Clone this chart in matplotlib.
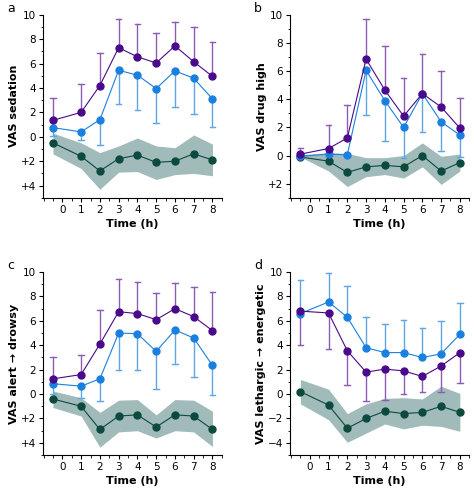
import matplotlib
matplotlib.use("Agg")
import matplotlib.pyplot as plt
from matplotlib.ticker import MultipleLocator

x = [-0.5, 1, 2, 3, 4, 5, 6, 7, 8]
xticks = [0, 1, 2, 3, 4, 5, 6, 7, 8]

a_pur = [1.35, 2.0, 4.2, 7.3, 6.55, 6.05, 7.45, 6.15, 4.95]
a_pur_err = [3.2, 4.35, 6.85, 9.65, 9.25, 8.5, 9.4, 9.0, 7.75]
a_blu = [0.75, 0.4, 1.4, 5.45, 5.05, 3.95, 5.4, 4.8, 3.1]
a_blu_err = [0.1, -0.3, -0.7, 2.7, 2.2, 1.1, 2.45, 1.9, 0.8]
a_grn = [-0.5, -1.6, -2.8, -1.8, -1.5, -2.1, -2.0, -1.4, -1.9]
a_lo = [-1.4, -2.6, -4.3, -2.9, -2.85, -3.5, -3.1, -3.0, -3.2]
a_hi = [0.3, -0.5, -1.3, -0.75, -0.1, -0.75, -0.9, 0.15, -0.6]

b_pur = [0.1, 0.5, 1.25, 6.85, 4.65, 2.8, 4.4, 3.45, 1.95]
b_pur_err = [0.55, 2.2, 3.6, 9.7, 7.8, 5.5, 7.2, 6.0, 4.1]
b_blu = [-0.05, 0.1, 0.05, 6.05, 3.9, 2.0, 4.4, 2.4, 1.45]
b_blu_err = [-0.1, 0.0, 0.0, 2.9, 1.0, -0.15, 1.65, 0.3, -0.1]
b_grn = [-0.1, -0.4, -1.2, -0.8, -0.7, -0.8, 0.0, -1.1, -0.5]
b_lo = [-0.1, -1.1, -2.2, -1.5, -1.35, -1.6, -0.8, -2.05, -1.1]
b_hi = [0.05, 0.2, 0.15, -0.15, -0.15, 0.0, 0.9, -0.05, 0.1]

c_pur = [1.25, 1.6, 4.1, 6.75, 6.6, 6.1, 7.0, 6.35, 5.2]
c_pur_err = [3.0, 3.2, 6.9, 9.4, 9.2, 8.3, 9.1, 8.8, 8.35]
c_blu = [0.85, 0.65, 1.25, 5.0, 4.95, 3.5, 5.25, 4.6, 2.35]
c_blu_err = [0.0, -0.3, -0.55, 2.0, 2.0, 0.45, 2.45, 1.4, -0.05]
c_grn = [-0.4, -1.0, -2.9, -1.8, -1.7, -2.7, -1.7, -1.8, -2.9]
c_lo = [-1.1, -1.8, -4.35, -3.1, -3.0, -3.6, -3.0, -3.1, -4.3]
c_hi = [0.25, -0.3, -1.5, -0.5, -0.45, -1.7, -0.45, -0.5, -1.4]

d_pur = [6.8, 6.65, 3.55, 1.8, 2.05, 1.9, 1.45, 2.3, 3.4]
d_pur_err = [4.05, 3.7, 0.75, -0.55, -0.45, 0.0, 0.15, 0.15, 0.9]
d_blu = [6.6, 7.55, 6.3, 3.8, 3.4, 3.4, 3.0, 3.3, 4.9]
d_blu_err = [9.35, 9.95, 8.85, 6.35, 5.75, 6.05, 5.4, 5.95, 7.5]
d_grn = [0.2, -0.9, -2.8, -2.0, -1.4, -1.6, -1.5, -1.0, -1.5]
d_lo = [-0.8, -2.1, -3.95, -3.2, -2.45, -2.85, -2.55, -2.65, -3.05]
d_hi = [1.2, 0.4, -1.6, -0.8, -0.35, -0.3, -0.4, 0.65, 0.05]

PUR, PUR_E = "#4a0a8a", "#8c5cb5"
BLU, BLU_E = "#1a80e0", "#5ea6e6"
GRN, BAND = "#0c4a3e", "#a0bbb9"

fig = plt.figure(figsize=(4.74, 4.92), dpi=100)

def panel(rect, letter, ylabel, pur, pur_err, blu, blu_err, grn, lo, hi,
          ymin, yticks, yticklabels):
    ax = fig.add_axes(rect)
    ax.fill_between(x, lo, hi, color=BAND, lw=0, zorder=1)
    for vals, err, c, ce in ((pur, pur_err, PUR, PUR_E), (blu, blu_err, BLU, BLU_E)):
        for xi, v, e in zip(x, vals, err):
            ax.plot([xi, xi], [v, e], color=ce, lw=1, zorder=2)
            ax.plot([xi - 0.15, xi + 0.15], [e, e], color=ce, lw=1, zorder=2)
    ax.plot(x, grn, color=GRN, lw=0.8, marker="o", ms=5, zorder=3)
    ax.plot(x, blu, color=BLU, lw=0.8, marker="o", ms=5, zorder=4)
    ax.plot(x, pur, color=PUR, lw=0.8, marker="o", ms=5, zorder=5)
    ax.set_xlim(-1.05, 8.5)
    ax.set_ylim(ymin, 10)
    ax.set_xticks(xticks)
    ax.set_yticks(yticks)
    ax.set_yticklabels(yticklabels)
    ax.xaxis.set_minor_locator(MultipleLocator(0.5))
    ax.yaxis.set_minor_locator(MultipleLocator(1))
    for s in ("top", "right"):
        ax.spines[s].set_visible(False)
    for s in ("left", "bottom"):
        ax.spines[s].set_linewidth(0.8)
    ax.tick_params(labelsize=7.5, length=3, width=0.8, pad=2)
    ax.tick_params(which="minor", length=1.8, width=0.6)
    ax.set_xlabel("Time (h)", fontsize=8, fontweight="bold", labelpad=3)
    ax.set_ylabel(ylabel, fontsize=8, fontweight="bold", labelpad=1)
    ax.text(-0.2, 1.0, letter, transform=ax.transAxes, fontsize=9, va="bottom")
    return ax

lab5 = ["10", "8", "6", "4", "2", "0", "+2", "+4"]
t5 = [10, 8, 6, 4, 2, 0, -2, -4]
panel([0.09, 0.598, 0.378, 0.372], "a", "VAS sedation",
      a_pur, a_pur_err, a_blu, a_blu_err, a_grn, a_lo, a_hi, -5, t5, lab5)
panel([0.612, 0.598, 0.378, 0.372], "b", "VAS drug high",
      b_pur, b_pur_err, b_blu, b_blu_err, b_grn, b_lo, b_hi, -3,
      [10, 8, 6, 4, 2, 0, -2], ["10", "8", "6", "4", "2", "0", "+2"])
panel([0.09, 0.075, 0.378, 0.372], "c", "VAS alert \u2192 drowsy",
      c_pur, c_pur_err, c_blu, c_blu_err, c_grn, c_lo, c_hi, -5, t5, lab5)
panel([0.612, 0.075, 0.378, 0.372], "d", "VAS lethargic \u2192 energetic",
      d_pur, d_pur_err, d_blu, d_blu_err, d_grn, d_lo, d_hi, -5, t5,
      ["10", "8", "6", "4", "2", "0", "\u22122", "\u22124"])

fig.savefig("out.png", dpi=100)
